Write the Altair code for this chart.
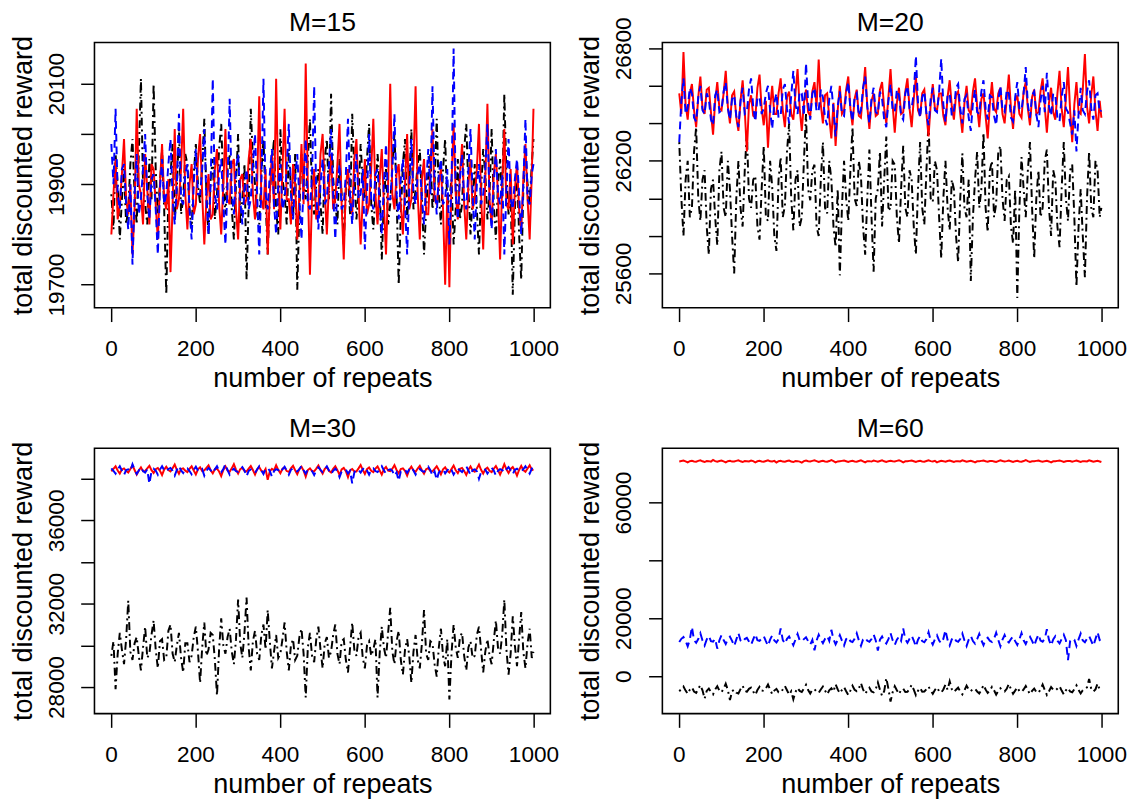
import altair as alt
import pandas as pd

# x positions (number of repeats) at which the series are sampled
repeats = list(range(1, 1000, 5)) + [1000]

# ---------------- M=15 ----------------
m15_black = [
    19880, 19810, 19960, 19900, 19790, 19870, 19930, 19820, 19850, 19940,
    19990, 19880, 19820, 19960, 20110, 19900, 19860, 19820, 19950, 19870,
    20100, 19930, 19840, 19900, 19970, 19850, 19680, 19880, 19920, 19980,
    19830, 19890, 20010, 19840, 19870, 19960, 19940, 19850, 19810, 19920,
    19980, 19900, 19860, 19940, 20030, 19880, 19800, 19910, 19950, 19830,
    19880, 19970, 20020, 19900, 19840, 19930, 19960, 19850, 19790, 19900,
    20000, 19820, 19870, 19940, 19710, 19860, 20050, 19950, 19900, 19840,
    19820, 19920, 19990, 19870, 19760, 19880, 19940, 19990, 19850, 19800,
    20010, 19910, 19880, 19820, 19970, 19890, 19830, 19960, 19690, 19850,
    19960, 19900, 19870, 19950, 20030, 19880, 19840, 19900, 19930, 19860,
    19800, 19950, 19990, 19870, 20080, 19910, 19860, 19820, 19950, 19880,
    19780, 19890, 19920, 19840, 20040, 19930, 19830, 19880, 19980, 19900,
    19870, 19950, 20020, 19860, 19810, 19880, 19960, 19900, 19750, 19870,
    19930, 19820, 19860, 19940, 20000, 19880, 19700, 19840, 19940, 19990,
    19830, 19900, 20010, 19850, 19890, 19940, 19970, 19870, 19760, 19850,
    19920, 19960, 19850, 19900, 20030, 19880, 19820, 19930, 19990, 19860,
    19870, 19910, 19780, 19850, 19950, 19830, 19860, 19970, 20020, 19890,
    19800, 19870, 19940, 19850, 19760, 19890, 19970, 19920, 19830, 19880,
    20010, 19860, 19790, 19900, 19950, 19870, 20080, 19920, 19840, 19880,
    19680, 19850, 19930, 19800, 19710, 19890, 19960, 19900, 19860, 19940,
    19990]
m15_red = [
    19800, 19880, 19950, 19830, 19860, 19920, 19990, 19870, 19840, 19900,
    19760, 19850, 20050, 19900, 19880, 19820, 19960, 19890, 19820, 19940,
    19930, 19860, 19790, 19900, 19980, 19870, 19850, 19910, 19725, 19860,
    20010, 19850, 19870, 19930, 20050, 19880, 19810, 19900, 19940, 19840,
    19860, 19950, 20000, 19880, 19780, 19870, 19920, 19830, 19840, 19930,
    19970, 19860, 19800, 19900, 20010, 19870, 19860, 19940, 19950, 19850,
    19790, 19910, 19920, 19860, 19870, 19950, 19990, 19880, 19830, 19900,
    20075, 19870, 19850, 19930, 19760, 19880, 19960, 19850, 20110, 19900,
    19810, 19930, 20050, 19870, 19870, 19820, 19940, 19900, 19790, 19880,
    19980, 19860, 20140, 19900, 19720, 19880, 19930, 19830, 19850, 19960,
    20000, 19890, 19800, 19900, 19960, 19850, 19870, 19940, 20020, 19860,
    19750, 19900, 19930, 19870, 19840, 19950, 19990, 19880, 19780, 19870,
    19950, 19840, 19860, 19930, 20030, 19880, 19820, 19910, 19970, 19860,
    19760, 19900, 20100, 19880, 19850, 19920, 19940, 19860, 19800, 19900,
    20000, 19850, 19870, 19940, 20095, 19880, 19790, 19910, 19950, 19840,
    19840, 19930, 20010, 19870, 19860, 19900, 19930, 19850, 19700, 19880,
    19695, 19900, 20020, 19880, 19830, 19920, 19980, 19860, 19790, 19900,
    19950, 19850, 19870, 19930, 20020, 19880, 19770, 19910, 20060, 19870,
    19820, 19920, 19960, 19880, 19750, 19900, 20010, 19860, 19850, 19930,
    19780, 19890, 19940, 19850, 19810, 19910, 19980, 19870, 19790, 19920,
    20050]
m15_blue = [
    19980, 19900, 20050, 19880, 19850, 19930, 19940, 19860, 19810, 19900,
    19740, 19880, 19960, 19840, 19870, 19930, 20000, 19880, 19830, 19910,
    19920, 19850, 19760, 19890, 19950, 19860, 19880, 19940, 19990, 19870,
    19820, 19900, 20040, 19870, 19860, 19920, 19940, 19850, 19790, 19900,
    19970, 19880, 19880, 19930, 20010, 19870, 19800, 19900, 20110, 19880,
    19850, 19920, 19950, 19860, 19780, 19900, 20070, 19880, 19840, 19930,
    19960, 19870, 19820, 19890, 19930, 19850, 19870, 19940, 20000, 19880,
    19760, 19900, 20110, 19880, 19850, 19920, 19970, 19860, 19800, 19900,
    19940, 19850, 19870, 19930, 20020, 19880, 19830, 19910, 19960, 19870,
    19790, 19900, 19990, 19860, 19850, 19920, 20095, 19880, 19810, 19900,
    19950, 19860, 19870, 19940, 20010, 19880, 19790, 19900, 19940, 19850,
    19860, 19920, 20030, 19880, 19820, 19900, 19960, 19870, 19880, 19930,
    19770, 19880, 20000, 19870, 19850, 19920, 19930, 19860, 19800, 19900,
    19980, 19870, 19870, 19930, 20040, 19880, 19830, 19910, 19950, 19860,
    19760, 19890, 19990, 19880, 19860, 19920, 19940, 19870, 19820, 19900,
    19970, 19880, 20095, 19900, 19840, 19920, 19950, 19860, 19870, 19930,
    19780, 19900, 20170, 19880, 19830, 19910, 19960, 19870, 19850, 19930,
    20010, 19880, 19790, 19900, 19940, 19860, 19880, 19930, 20020, 19870,
    19810, 19900, 19970, 19880, 19860, 19920, 19760, 19890, 19990, 19870,
    19850, 19910, 19950, 19880, 19800, 19900, 20030, 19870, 19860, 19920,
    19940]

# ---------------- M=20 ----------------
m20_black = [
    26300, 26000, 25800, 26100, 26200, 25900, 25950, 26250, 26380, 26000,
    25880, 26100, 26150, 25850, 25700, 26050, 26100, 25900, 25750, 26150,
    26250, 25950, 25900, 26200, 26050, 25800, 25600, 26000, 26200, 25950,
    25850, 26150, 26350, 26000, 25950, 26100, 26120, 25850, 25780, 26050,
    26280, 25900, 25880, 26200, 26060, 25800, 25720, 26100, 26220, 25900,
    25960, 26250, 26400, 26000, 25830, 26100, 26150, 25850, 25900, 26200,
    26450, 26050, 25990, 26150, 26180, 25850, 25800, 26100, 26300, 25950,
    25920, 26200, 26100, 25850, 25740, 26050, 25590, 25950, 26200, 26000,
    25880, 26150, 26380, 26000, 25960, 26200, 26120, 25850, 25700, 26000,
    26260, 25900, 25610, 26000, 26050, 26250, 25850, 26100, 26330, 25950,
    25940, 26200, 26180, 25900, 25760, 26050, 26280, 25950, 25900, 26150,
    26100, 25850, 25700, 26050, 26300, 25950, 25860, 26150, 26420, 26000,
    25980, 26200, 26150, 25900, 25680, 26000, 26200, 25950, 25830, 26100,
    26050, 25800, 25660, 26000, 26240, 25950, 25900, 26100, 25560, 25900,
    26100, 26250, 25950, 26050, 26350, 25950, 25820, 26150, 26200, 25900,
    25970, 26250, 26280, 26000, 25880, 26100, 26120, 25850, 25760, 26050,
    25470, 25950, 26220, 26050, 25900, 26150, 26300, 25950, 25680, 26000,
    26150, 25900, 25950, 26200, 26260, 25950, 25800, 26150, 26100, 25850,
    25740, 26050, 26300, 26000, 25880, 26150, 26180, 25900, 25530, 25850,
    26050, 25800, 25580, 26000, 26250, 25950, 25900, 26200, 26150, 25900,
    25950]
m20_red = [
    26560, 26450, 26780, 26500, 26420, 26560, 26610, 26470, 26380, 26540,
    26650, 26480, 26450, 26580, 26590, 26460, 26340, 26520, 26620, 26480,
    26470, 26560, 26680, 26490, 26400, 26550, 26570, 26430, 26360, 26520,
    26630, 26470, 26250, 26500, 26550, 26440, 26430, 26590, 26660, 26480,
    26390, 26520, 26270, 26480, 26600, 26450, 26450, 26560, 26640, 26470,
    26380, 26540, 26570, 26450, 26420, 26560, 26690, 26480, 26360, 26510,
    26580, 26460, 26440, 26570, 26620, 26490, 26740, 26500, 26400, 26550,
    26560, 26430, 26320, 26510, 26280, 26470, 26600, 26450, 26470, 26580,
    26650, 26480, 26390, 26530, 26580, 26440, 26430, 26570, 26700, 26490,
    26370, 26520, 26560, 26440, 26450, 26580, 26620, 26480, 26400, 26540,
    26690, 26500, 26350, 26510, 26590, 26450, 26460, 26570, 26640, 26480,
    26380, 26530, 26650, 26470, 26440, 26560, 26580, 26450, 26330, 26500,
    26610, 26480, 26470, 26560, 26560, 26440, 26390, 26540, 26630, 26490,
    26420, 26550, 26570, 26450, 26350, 26510, 26600, 26470, 26450, 26570,
    26640, 26490, 26380, 26530, 26560, 26440, 26320, 26500, 26620, 26480,
    26460, 26560, 26590, 26450, 26400, 26530, 26660, 26480, 26370, 26520,
    26550, 26450, 26430, 26570, 26620, 26480, 26390, 26540, 26580, 26450,
    26460, 26570, 26640, 26490, 26350, 26510, 26590, 26460, 26420, 26560,
    26680, 26480, 26380, 26530, 26700, 26470, 26300, 26500, 26620, 26460,
    26450, 26580, 26770, 26490, 26400, 26550, 26650, 26470, 26360, 26520,
    26430]
m20_blue = [
    26300, 26520, 26640, 26450, 26480, 26590, 26560, 26430, 26410, 26540,
    26600, 26470, 26450, 26560, 26530, 26420, 26390, 26550, 26580, 26460,
    26470, 26570, 26620, 26480, 26420, 26530, 26550, 26440, 26380, 26520,
    26590, 26450, 26460, 26580, 26640, 26490, 26410, 26540, 26540, 26450,
    26480, 26560, 26600, 26470, 26370, 26510, 26560, 26430, 26440, 26580,
    26610, 26480, 26400, 26550, 26680, 26500, 26450, 26570, 26560, 26440,
    26720, 26510, 26420, 26560, 26590, 26460, 26470, 26580, 26540, 26430,
    26390, 26530, 26600, 26470, 26330, 26490, 26570, 26450, 26440, 26560,
    26620, 26480, 26410, 26540, 26560, 26440, 26470, 26590, 26650, 26490,
    26400, 26530, 26590, 26460, 26450, 26570, 26530, 26420, 26380, 26520,
    26610, 26470, 26460, 26580, 26550, 26440, 26420, 26560, 26600, 26480,
    26480, 26560, 26760, 26510, 26430, 26540, 26570, 26450, 26390, 26530,
    26590, 26470, 26460, 26570, 26745, 26500, 26410, 26550, 26560, 26440,
    26470, 26590, 26610, 26480, 26400, 26530, 26550, 26430, 26360, 26510,
    26580, 26460, 26450, 26570, 26630, 26480, 26420, 26550, 26540, 26440,
    26390, 26520, 26600, 26470, 26460, 26580, 26560, 26430, 26410, 26540,
    26620, 26480, 26470, 26560, 26700, 26500, 26430, 26550, 26570, 26450,
    26380, 26520, 26600, 26460, 26670, 26490, 26440, 26560, 26550, 26430,
    26410, 26540, 26620, 26480, 26460, 26400, 26340, 26470, 26250, 26450,
    26590, 26470, 26450, 26570, 26630, 26480, 26420, 26550, 26560, 26460,
    26470]

# ---------------- M=30 ----------------
m30_black = [
    29500, 30200, 27900, 29600, 30600, 29800, 29100, 30300, 32150, 29700,
    29300, 30100, 30400, 29500, 28800, 29900, 30900, 29400, 29600, 30500,
    31200, 29800, 28900, 30200, 30300, 29300, 29400, 30700, 31000, 29600,
    29200, 30000, 30600, 29400, 28700, 30100, 30100, 29200, 29500, 30400,
    30900, 29700, 28200, 29900, 31100, 29500, 29800, 30600, 30500, 29300,
    27600, 29800, 31300, 30000, 29600, 30400, 30800, 29700, 29100, 30300,
    32200, 30100, 29400, 30600, 32300, 29900, 28800, 30200, 30700, 29600,
    29300, 30500, 31000, 29800, 31700, 30200, 28900, 29700, 30500, 29400,
    29600, 30300, 31100, 29700, 28800, 30000, 30300, 29300, 29500, 30400,
    30800, 29600, 27500, 29900, 30600, 29500, 29200, 30300, 30900, 29800,
    28900, 30100, 30400, 29400, 29700, 30500, 31000, 29600, 29100, 30200,
    30300, 29300, 28700, 29900, 31100, 29800, 29500, 30400, 30600, 29400,
    28900, 30000, 30200, 29500, 29800, 30300, 27500, 29600, 30900, 29900,
    29400, 30600, 31800, 29700, 29100, 30200, 30700, 29300, 28600, 29800,
    30300, 29500, 28200, 29700, 30500, 29300, 28900, 30100, 31700, 29600,
    29300, 30200, 30100, 29100, 28500, 29900, 30800, 29500, 29000, 30300,
    27400, 29600, 31000, 29900, 29400, 30400, 30600, 29500, 28800, 29900,
    30200, 29400, 29500, 30500, 30900, 29800, 28700, 29700, 30300, 29500,
    29100, 30200, 31200, 29900, 29600, 30500, 32200, 29800, 28600, 29600,
    31400, 30000, 29000, 30300, 31600, 29700, 28900, 30100, 30800, 29400,
    29700]
m30_red = [
    38350, 38480, 38600, 38400, 38250, 38450, 38500, 38380, 38300, 38470,
    38650, 38420, 38200, 38400, 38550, 38360, 38380, 38500, 38620, 38410,
    38280, 38460, 38520, 38380, 38180, 38440, 38580, 38420, 38350, 38500,
    38680, 38430, 38240, 38470, 38500, 38390, 38320, 38480, 38600, 38400,
    38210, 38450, 38550, 38370, 38400, 38520, 38640, 38410, 38260, 38460,
    38480, 38350, 38130, 38420, 38600, 38390, 38340, 38500, 38700, 38440,
    38250, 38460, 38520, 38380, 38350, 38490, 38610, 38420, 38200, 38450,
    38560, 38380, 38300, 38470, 37950, 38350, 38480, 38400, 38650, 38430,
    38270, 38480, 38540, 38370, 38330, 38500, 38620, 38410, 38220, 38460,
    38580, 38390, 38100, 38420, 38500, 38370, 38360, 38490, 38640, 38420,
    38250, 38470, 38560, 38380, 38300, 38480, 38600, 38410, 38180, 38450,
    38520, 38360, 38080, 38400, 38470, 38350, 38350, 38500, 38660, 38430,
    38230, 38460, 38540, 38380, 38320, 38490, 38590, 38400, 38200, 38450,
    38570, 38390, 38370, 38480, 38650, 38420, 38260, 38470, 38500, 38380,
    38150, 38430, 38580, 38400, 38330, 38490, 38620, 38410, 38240, 38460,
    38510, 38370, 38360, 38480, 38600, 38420, 38210, 38450, 38550, 38380,
    38300, 38470, 38630, 38410, 38270, 38480, 38520, 38370, 38180, 38440,
    38590, 38400, 38340, 38490, 38680, 38430, 38250, 38460, 38530, 38380,
    38320, 38480, 38610, 38420, 38200, 38440, 38700, 38450, 38280, 38470,
    38560, 38390, 38150, 38420, 38620, 38410, 38330, 38490, 38650, 38440,
    38400]
m30_blue = [
    38500, 38380, 38250, 38460, 38600, 38390, 38180, 38420, 38450, 38360,
    38700, 38440, 38230, 38400, 38550, 38370, 38300, 38450, 37760, 38350,
    38480, 38390, 38200, 38440, 38600, 38410, 38340, 38470, 38520, 38380,
    38150, 38420, 38620, 38400, 38280, 38460, 38500, 38370, 38220, 38430,
    38580, 38400, 38350, 38460, 38150, 38380, 38520, 38410, 38270, 38450,
    38600, 38380, 38310, 38470, 38700, 38420, 38200, 38390, 38480, 38360,
    38330, 38450, 38560, 38400, 38120, 38380, 38450, 38360, 38280, 38440,
    38600, 38410, 38230, 38460, 38520, 38380, 38100, 38370, 38460, 38420,
    38300, 38450, 38580, 38400, 38200, 38430, 38500, 38380, 38350, 38460,
    38620, 38410, 38250, 38440, 38450, 38370, 38180, 38400, 38550, 38430,
    38320, 38460, 38600, 38400, 38220, 38380, 38480, 38360, 38080, 38350,
    38400, 38440, 38250, 38380, 37780, 38300, 38450, 38420, 38300, 38460,
    38560, 38400, 38200, 38430, 38500, 38370, 38320, 38450, 38600, 38410,
    38240, 38420, 38450, 38380, 38140, 38300, 37900, 38350, 38420, 38440,
    38280, 38450, 38560, 38400, 38200, 38420, 38470, 38380, 38330, 38460,
    38580, 38410, 38150, 38350, 37950, 38300, 38420, 38450, 38260, 38400,
    38540, 38430, 38200, 38380, 38480, 38410, 38320, 38460, 38600, 38400,
    38180, 38420, 38450, 38360, 38000, 38320, 38380, 38440, 38250, 38410,
    38520, 38400, 38150, 38380, 38460, 38420, 38300, 38450, 38560, 38400,
    38220, 38430, 38480, 38390, 38340, 38460, 38600, 38420, 38250, 38480,
    38650]

# ---------------- M=60 ----------------
m60_black = [
    -5200, -4500, -3600, -5000, -6100, -4700, -3900, -5300, -5800, -4400,
    -3100, -4900, -7800, -5100, -4300, -5500, -6300, -4600, -3500, -5000,
    -5600, -4300, -2600, -4800, -8300, -5200, -4700, -5700, -6000, -4500,
    -3300, -5100, -5400, -4400, -4000, -5300, -6500, -4800, -3700, -5000,
    -5100, -4200, -2900, -4700, -6200, -5000, -4400, -5600, -5700, -4600,
    -3400, -4900, -6400, -5200, -8000, -5500, -4100, -5100, -5500, -4300,
    -3000, -4800, -6000, -4700, -4500, -5400, -5800, -4600, -3600, -5000,
    -6300, -4900, -4200, -5300, -2800, -4600, -5900, -4800, -3800, -5200,
    -6500, -5000, -3300, -4700, -5200, -4300, -2400, -4600, -6100, -5000,
    -4000, -5300, -5600, -4500, -2200, -4700, -6800, -5200, -700, -4400,
    -8800, -5600, -3500, -4900, -6200, -4800, -4300, -5500, -5400, -4400,
    -3000, -4700, -6600, -5100, -4100, -5400, -5300, -4500, -3600, -5000,
    -6100, -4800, -3900, -5200, -5700, -4600, -2900, -4700, -1800, -4500,
    -5500, -4700, -4000, -5300, -6300, -4900, -3300, -4600, -5200, -4400,
    -4400, -5300, -6000, -4800, -3100, -4600, -5800, -5000, -3700, -4900,
    -6400, -5100, -4200, -5000, -5300, -4400, -2700, -4500, -6100, -5000,
    -3900, -5200, -5500, -4600, -3400, -4900, -6200, -5100, -4300, -5500,
    -5800, -4600, -2900, -4800, -6500, -5200, -3800, -4700, -5000, -4300,
    -3500, -5000, -6300, -4900, -4100, -5300, -5600, -4500, -3200, -4800,
    -6000, -4900, -4400, -3900, -1000, -4400, -5300, -4600, -2600, -4700,
    -4800]
m60_red = [
    74200, 74350, 74500, 74250, 73900, 74300, 74400, 74200, 74100, 74400,
    74600, 74250, 74000, 74350, 74300, 74150, 74700, 74300, 74100, 74350,
    74500, 74200, 73900, 74300, 74400, 74150, 74200, 74400, 74600, 74250,
    74000, 74350, 74300, 74200, 74500, 74300, 73900, 74250, 74400, 74200,
    74100, 74350, 74600, 74250, 74200, 74400, 73800, 74300, 74400, 74150,
    74100, 74350, 74500, 74200, 74000, 74350, 74300, 74150, 73800, 74300,
    74500, 74250, 74200, 74400, 74600, 74300, 74000, 74250, 74400, 74200,
    74100, 74350, 74700, 74300, 73900, 74200, 74300, 74400, 74500, 74250,
    74000, 74300, 74400, 74200, 74100, 74350, 74600, 74250, 73900, 74300,
    74300, 74150, 74500, 74300, 74100, 74350, 74600, 74250, 74000, 74300,
    74400, 74250, 74200, 74400, 74600, 74300, 73900, 74250, 74300, 74400,
    74500, 74250, 74000, 74300, 74400, 74200, 74100, 74350, 74600, 74300,
    74200, 74400, 73900, 74200, 74400, 74300, 74100, 74350, 74500, 74250,
    74000, 74300, 74300, 74200, 74600, 74350, 74100, 74250, 74400, 74200,
    73900, 74250, 74300, 74400, 74500, 74250, 74100, 74350, 74400, 74200,
    74000, 74300, 74600, 74350, 74200, 74300, 74500, 74250, 74000, 74300,
    74400, 74200, 74100, 74350, 74700, 74300, 74000, 74250, 74300, 74400,
    74500, 74250, 74100, 74300, 74400, 74200, 73900, 74250, 74300, 74400,
    74500, 74300, 74000, 74250, 74400, 74350, 74100, 74300, 74500, 74250,
    74000, 74300, 74300, 74200, 74600, 74350, 74100, 74250, 74400, 74200,
    74000]
m60_blue = [
    11800, 12900, 13500, 12200, 10300, 12600, 17000, 12400, 11500, 12800,
    14800, 12300, 10600, 12700, 13900, 12100, 11900, 12900, 9500, 12400,
    14200, 12500, 11100, 12800, 13600, 12200, 10400, 12600, 14900, 12300,
    11700, 12800, 13200, 12000, 10800, 12700, 14500, 12400, 12200, 12900,
    13800, 12100, 10500, 12600, 14100, 12300, 11600, 12800, 16500, 12500,
    11200, 12900, 13700, 12200, 10700, 12600, 14600, 12400, 12000, 12800,
    13400, 12100, 10900, 12500, 8900, 12300, 14300, 12600, 11400, 12900,
    13900, 12200, 16000, 12700, 11000, 12500, 14200, 12300, 10600, 12800,
    13500, 12100, 11800, 12900, 14800, 12400, 10500, 12700, 13300, 12200,
    11900, 12800, 14400, 12300, 8800, 12600, 13700, 12100, 11300, 12800,
    14900, 12400, 10800, 12600, 13600, 12200, 16500, 12700, 11500, 12900,
    14000, 12300, 10200, 12600, 13800, 12100, 11700, 12800, 15200, 12400,
    10900, 12700, 14100, 12300, 11400, 12900, 15900, 12500, 10600, 12700,
    13500, 12200, 11900, 12800, 14700, 12300, 10400, 12600, 13900, 12100,
    11200, 12800, 14600, 12400, 10700, 12700, 13300, 12200, 11800, 12900,
    15000, 12500, 10300, 12600, 14200, 12300, 11600, 12800, 13700, 12100,
    10800, 12700, 14900, 12400, 11100, 12800, 13600, 12200, 10500, 12600,
    14400, 12300, 11900, 12900, 16200, 12500, 10600, 12700, 13800, 12200,
    11300, 12800, 14300, 12400, 5500, 12100, 13000, 12600, 10400, 12700,
    14700, 12300, 11700, 12900, 13900, 12200, 10500, 12800, 15200, 12500,
    12800]

panel_titles = ["M=15", "M=20", "M=30", "M=60"]
y_domains = [[19654, 20182], [25417, 26831], [26726, 39462], [-12950, 78740]]
y_ticks = [[19700, 19800, 19900, 20000, 20100],
           [25600, 25800, 26000, 26200, 26400, 26600, 26800],
           [28000, 30000, 32000, 34000, 36000, 38000],
           [0, 20000, 40000, 60000]]
y_labeled = [[19700, 19900, 20100],
             [25600, 26200, 26800],
             [28000, 32000, 36000],
             [0, 20000, 60000]]
x_ticks = [0, 200, 400, 600, 800, 1000]
x_domain = [-38.96, 1039.96]

FONT = "Liberation Sans"
W, H = 464, 270
TICK_FS, AXIS_TITLE_FS, TITLE_FS = 23, 27.5, 27


def make_panel(title, black, red, blue, y_domain, yt, yl):
    label_expr = "indexof([%s], datum.value) >= 0 ? datum.label : ''" % ",".join(str(v) for v in yl)
    x_enc = alt.X(
        "repeat:Q",
        scale=alt.Scale(domain=x_domain, nice=False, zero=False),
        axis=alt.Axis(
            values=x_ticks, format="d", grid=False, domain=False,
            tickSize=14, tickWidth=1.5, tickColor="black",
            labelFont=FONT, labelFontSize=TICK_FS, labelColor="black",
            labelBaseline="alphabetic", labelPadding=35, labelFlush=False,
            labelOverlap=False,
            title="number of repeats", titleFont=FONT, titleFontSize=AXIS_TITLE_FS,
            titleFontWeight="normal", titleColor="black",
            titleBaseline="alphabetic", titleAlign="center",
            titleX=W / 2, titleY=80,
        ),
    )
    y_enc = alt.Y(
        "reward:Q",
        scale=alt.Scale(domain=y_domain, nice=False, zero=False),
        axis=alt.Axis(
            values=yt, format="d", labelExpr=label_expr, grid=False, domain=False,
            tickSize=14, tickWidth=1.5, tickColor="black",
            labelFont=FONT, labelFontSize=TICK_FS, labelColor="black",
            labelAngle=270, labelAlign="center", labelBaseline="alphabetic",
            labelPadding=18, labelOverlap=False, labelFlush=False,
            title="total discounted reward", titleFont=FONT, titleFontSize=AXIS_TITLE_FS,
            titleFontWeight="normal", titleColor="black",
            titleAngle=270, titleAlign="center", titleBaseline="alphabetic",
            titleX=-64.5, titleY=H / 2,
        ),
    )

    def series(vals, color, dash):
        df = pd.DataFrame({"repeat": repeats, "reward": vals})
        mk = dict(color=color, strokeWidth=2)
        if dash:
            mk["strokeDash"] = dash
        return alt.Chart(df).mark_line(**mk).encode(x=x_enc, y=y_enc)

    t = alt.Chart(pd.DataFrame({"label": [title]})).mark_text(
        font=FONT, fontSize=TITLE_FS, color="black", align="center", baseline="alphabetic"
    ).encode(text="label:N", x=alt.value(W / 2), y=alt.value(-11.5))

    return alt.layer(
        series(black, "#000000", [2, 4, 8, 4]),
        series(red, "#FF0000", None),
        series(blue, "#0000FF", [8, 5]),
        t,
    ).properties(width=W, height=H)


p1 = make_panel(panel_titles[0], m15_black, m15_red, m15_blue, y_domains[0], y_ticks[0], y_labeled[0])
p2 = make_panel(panel_titles[1], m20_black, m20_red, m20_blue, y_domains[1], y_ticks[1], y_labeled[1])
p3 = make_panel(panel_titles[2], m30_black, m30_red, m30_blue, y_domains[2], y_ticks[2], y_labeled[2])
p4 = make_panel(panel_titles[3], m60_black, m60_red, m60_blue, y_domains[3], y_ticks[3], y_labeled[3])

chart = alt.vconcat(
    alt.hconcat(p1, p2, spacing=16),
    alt.hconcat(p3, p4, spacing=16),
    spacing=21,
).properties(
    padding={"left": 0, "top": -7, "right": 5, "bottom": 5},
    background="white",
).configure_view(
    stroke="black", strokeWidth=1.6
)

chart.save("out.html", embed_options={"renderer": "svg", "actions": False})
